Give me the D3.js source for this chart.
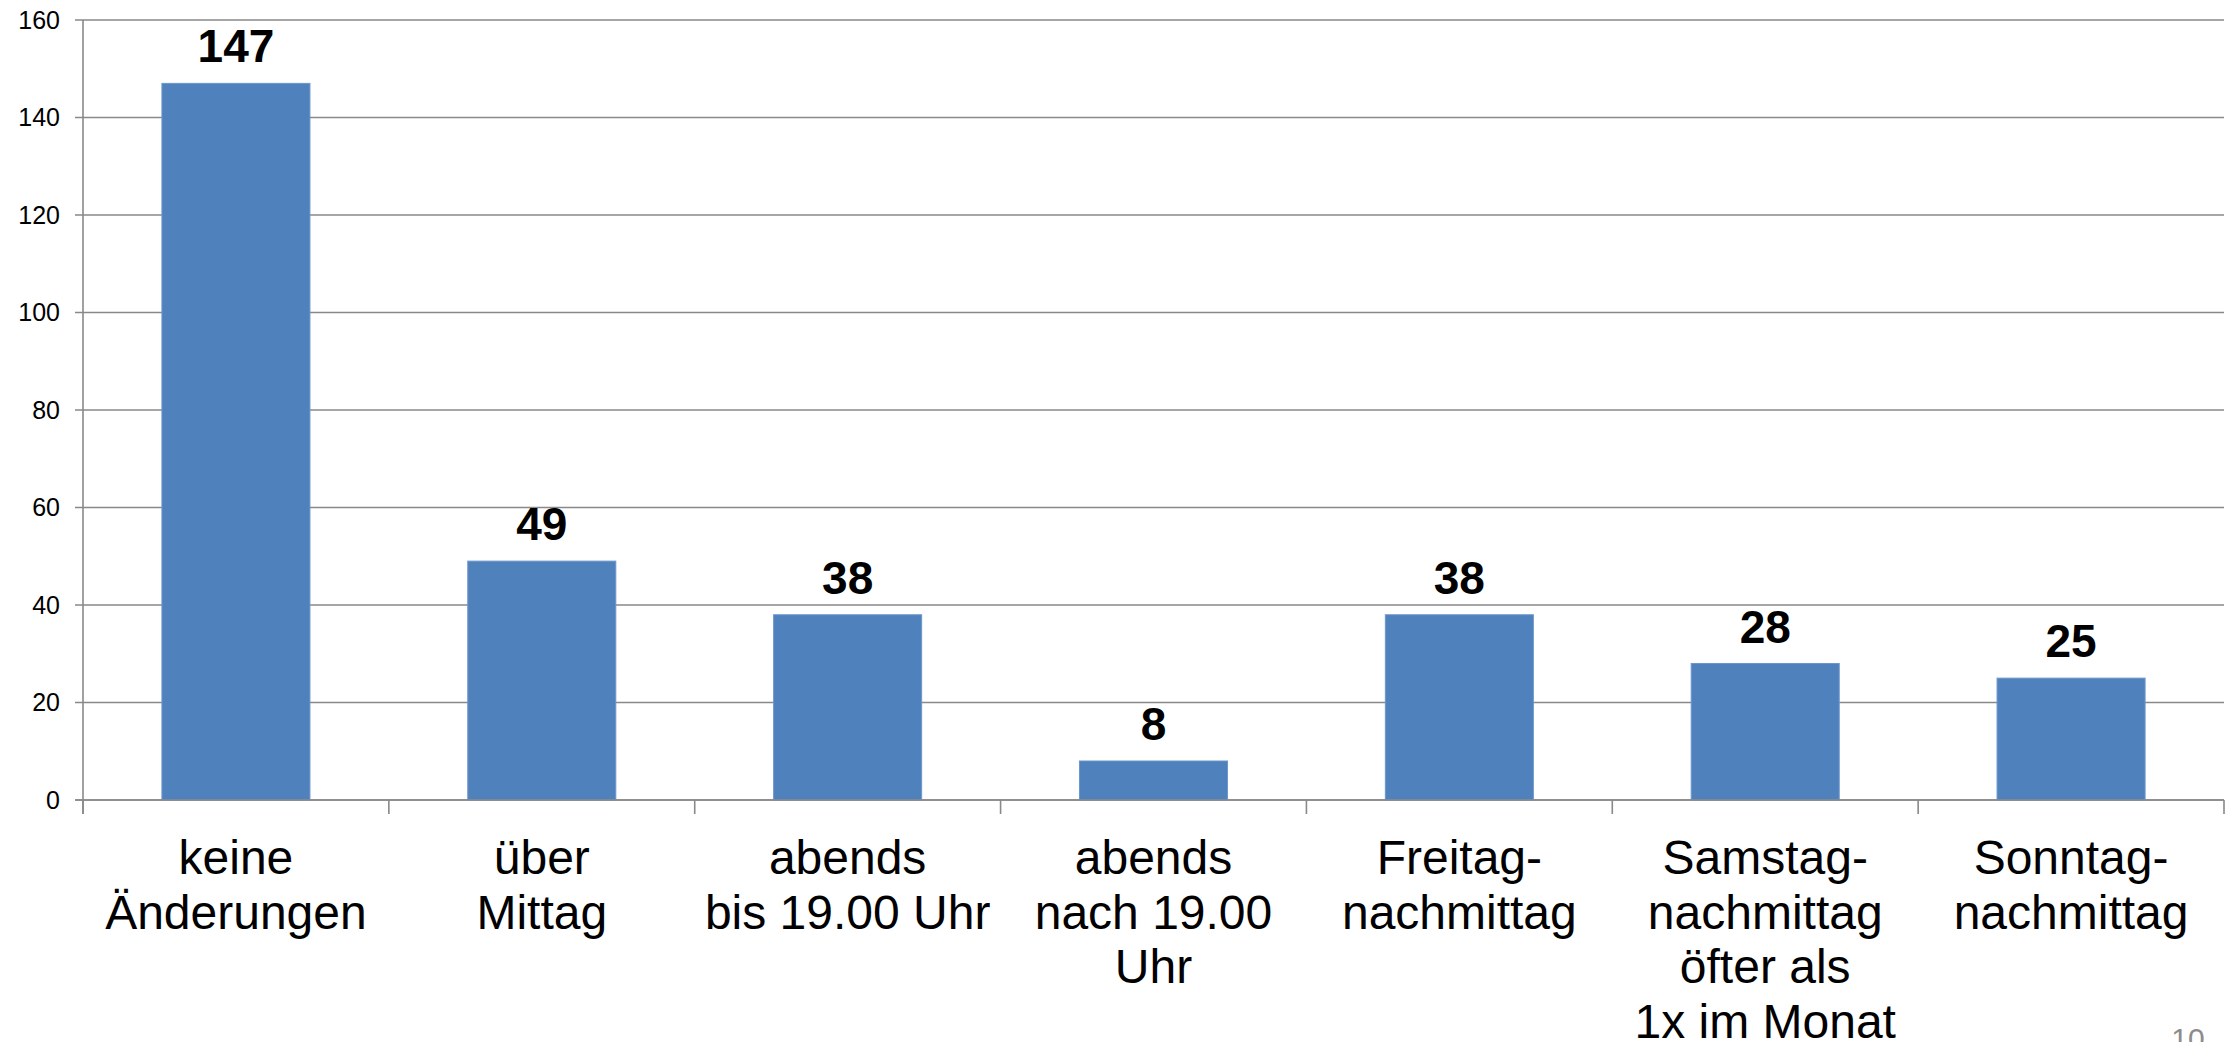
<!DOCTYPE html>
<html>
<head>
<meta charset="utf-8">
<script src="https://cdn.jsdelivr.net/npm/d3@7"></script>
<style>
  html, body { margin: 0; padding: 0; background: #fff; overflow: hidden; }
  svg { display: block; }
  text { font-family: "Liberation Sans", Arial, sans-serif; }
</style>
</head>
<body>
<svg id="chart" width="2236" height="1042"></svg>
<script>
const categories = [
  ["keine", "Änderungen"],
  ["über", "Mittag"],
  ["abends", "bis 19.00 Uhr"],
  ["abends", "nach 19.00", "Uhr"],
  ["Freitag-", "nachmittag"],
  ["Samstag-", "nachmittag", "öfter als", "1x im Monat"],
  ["Sonntag-", "nachmittag"]
];
const values = [147, 49, 38, 8, 38, 28, 25];
const yTicks = [0, 20, 40, 60, 80, 100, 120, 140, 160];
const pageNumber = "10";

(function () {
const svg = d3.select("#chart");
const plotLeft = 83, plotRight = 2224, plotTop = 20, plotBottom = 800;
const gridColor = "#898989";

const x = d3.scaleBand()
  .domain(d3.range(categories.length))
  .range([plotLeft, plotRight])
  .paddingInner(0.516)
  .paddingOuter(0.258);

const band = d3.scaleBand()
  .domain(d3.range(categories.length))
  .range([plotLeft, plotRight]);

const y = d3.scaleLinear().domain([0, 160]).range([plotBottom, plotTop]);

// gridlines
svg.append("g").selectAll("line").data(yTicks).join("line")
  .attr("x1", plotLeft - 8).attr("x2", plotRight)
  .attr("y1", d => y(d)).attr("y2", d => y(d))
  .attr("stroke", gridColor).attr("stroke-width", 1.6);

// y axis tick labels
svg.append("g").selectAll("text").data(yTicks).join("text")
  .attr("x", 60).attr("y", d => y(d))
  .attr("dy", "0.35em")
  .attr("text-anchor", "end")
  .attr("font-size", 25)
  .attr("fill", "#000")
  .text(d => d);

// bars
svg.append("g").selectAll("rect").data(values).join("rect")
  .attr("x", (d, i) => x(i))
  .attr("width", x.bandwidth())
  .attr("y", d => y(d))
  .attr("height", d => y(0) - y(d))
  .attr("fill", "#4F81BD")
  .attr("stroke", "#6C96CC")
  .attr("stroke-width", 1);

// y axis line
svg.append("line")
  .attr("x1", plotLeft).attr("x2", plotLeft)
  .attr("y1", plotTop).attr("y2", plotBottom + 14)
  .attr("stroke", gridColor).attr("stroke-width", 1.6);

// x axis baseline
svg.append("line")
  .attr("x1", plotLeft - 8).attr("x2", plotRight)
  .attr("y1", plotBottom).attr("y2", plotBottom)
  .attr("stroke", gridColor).attr("stroke-width", 1.6);

// x tick marks at category boundaries
const boundaries = d3.range(categories.length + 1).map(i => i < categories.length ? band(i) : plotRight);
svg.append("g").selectAll("line").data(boundaries).join("line")
  .attr("x1", d => d).attr("x2", d => d)
  .attr("y1", plotBottom).attr("y2", plotBottom + 14)
  .attr("stroke", gridColor).attr("stroke-width", 1.6);

// value labels
svg.append("g").selectAll("text").data(values).join("text")
  .attr("x", (d, i) => x(i) + x.bandwidth() / 2)
  .attr("y", d => y(d) - 21)
  .attr("text-anchor", "middle")
  .attr("font-size", 46)
  .attr("font-weight", "bold")
  .attr("fill", "#000")
  .text(d => d);

// category labels
const catG = svg.append("g").selectAll("text").data(categories).join("text")
  .attr("x", (d, i) => band(i) + band.bandwidth() / 2)
  .attr("y", 874)
  .attr("text-anchor", "middle")
  .attr("font-size", 48)
  .attr("fill", "#000");
catG.selectAll("tspan").data(d => d).join("tspan")
  .attr("x", function() { return d3.select(this.parentNode).attr("x"); })
  .attr("dy", (d, j) => j === 0 ? 0 : 54.5)
  .text(d => d);

// page number
svg.append("text")
  .attr("x", 2188).attr("y", 1049)
  .attr("text-anchor", "middle")
  .attr("font-size", 30)
  .attr("fill", "#8C8C8C")
  .text(pageNumber);
})();
</script>
</body>
</html>
